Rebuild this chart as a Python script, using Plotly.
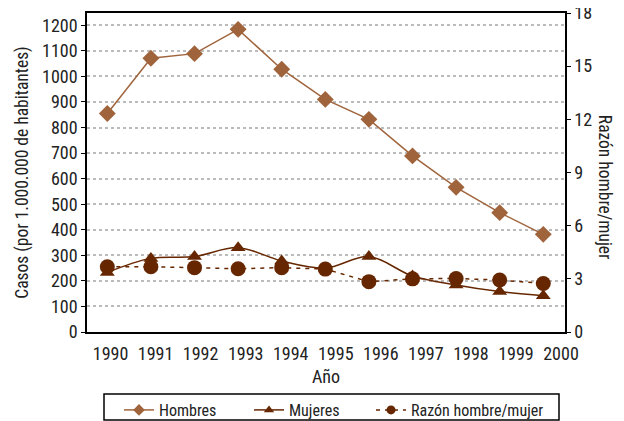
import plotly.graph_objects as go

years = [1990, 1991, 1992, 1993, 1994, 1995, 1996, 1997, 1998, 1999, 2000]
hombres = [855, 1071, 1089, 1184, 1028, 910, 832, 689, 566, 467, 382]
mujeres = [233, 288, 295, 330, 278, 250, 295, 219, 184, 158, 142]
razon = [3.68, 3.68, 3.63, 3.57, 3.63, 3.55, 2.84, 3.0, 3.02, 2.93, 2.74]
year_labels = [str(y) for y in years]
left_ticks = list(range(0, 1300, 100))
right_ticks = [0, 3, 6, 9, 12, 15, 18]

light = "#A0643C"
dark = "#662700"
FONT = "Liberation Sans Narrow, Arial Narrow, Roboto Condensed, sans-serif"

# page body adds an 8px offset; the figure is sized to fill the rest of the window
W, H = 616, 413
L, R, T, B = 79, 59, 5, 89
PW, PH = W - L - R, H - T - B

series = [
    dict(name="Hombres", y=hombres, axis="y", color=light, symbol="diamond", size=13,
         dash="solid", shape="linear", legend="legend", lx=111),
    dict(name="Mujeres", y=mujeres, axis="y", color=dark, symbol="triangle-up", size=13,
         dash="solid", shape="spline", legend="legend2", lx=241),
    dict(name="Razón hombre/mujer", y=razon, axis="y2", color=dark, symbol="circle", size=15,
         dash="4px,5px", shape="linear", legend="legend3", lx=363),
]

fig = go.Figure()
for s in series:
    fig.add_trace(go.Scatter(x=years, y=s["y"], name=s["name"], mode="lines+markers",
                             yaxis=s["axis"], showlegend=False,
                             line=dict(color=s["color"], width=1.5, dash=s["dash"],
                                       shape=s["shape"], smoothing=1),
                             marker=dict(symbol=s["symbol"], size=s["size"], color=s["color"])))
for s in series:
    fig.add_trace(go.Scatter(x=[None], y=[None], name=s["name"], mode="lines+markers",
                             yaxis=s["axis"], legend=s["legend"], showlegend=True,
                             line=dict(color=s["color"], width=1.5, dash=s["dash"]),
                             marker=dict(symbol=s["symbol"], size=9, color=s["color"])))
# label scale for the year tick labels
fig.add_trace(go.Scatter(x=years, y=[None] * len(years), xaxis="x2", showlegend=False,
                         hoverinfo="skip", mode="markers"))

leg_common = dict(orientation="h", xref="container", yref="container", xanchor="left",
                  y=1 - 385 / H, yanchor="top", borderwidth=0, bgcolor="rgba(0,0,0,0)",
                  font=dict(size=16))
legends = {}
for s in series:
    legends[s["legend"]] = dict(leg_common, x=s["lx"] / W)

fig.update_layout(
    width=W, height=H,
    margin=dict(l=L, r=R, t=T, b=B, autoexpand=False),
    paper_bgcolor="white", plot_bgcolor="white",
    font=dict(family=FONT, size=17, color="#222"),
    showlegend=True,
    **legends,
    xaxis=dict(range=[1989.534, 2000.498], showticklabels=False, showgrid=False,
               showline=True, linecolor="black", linewidth=1.5, mirror=True,
               zeroline=False, ticks="", automargin=False),
    xaxis2=dict(range=[1989.478, 2000.089], overlaying="x", anchor="y", side="bottom",
                tickvals=years, ticktext=year_labels, showgrid=False, showline=False,
                zeroline=False, ticks="", ticklabelstandoff=9, automargin=False,
                tickfont=dict(size=18),
                title=dict(text="Año", standoff=7, font=dict(size=18))),
    yaxis=dict(range=[0, 1248], tickvals=left_ticks, showline=True, linecolor="black",
               linewidth=1.5, ticks="outside", ticklen=4, tickcolor="black",
               showgrid=True, gridcolor="#BBBBBB", griddash="dot", gridwidth=1.5,
               zeroline=False, automargin=False, ticklabeloverflow="allow",
               tickfont=dict(size=18),
               title=dict(text="Casos (por 1.000.000 de habitantes)", standoff=9,
                          font=dict(size=17.5))),
    yaxis2=dict(range=[0, 18], tickvals=right_ticks, overlaying="y", side="right",
                showline=True, linecolor="black", linewidth=1.5, ticks="outside",
                ticklen=4, tickcolor="black", showgrid=False, zeroline=False,
                automargin=False, ticklabeloverflow="allow", tickfont=dict(size=18)),
    annotations=[dict(text="Razón hombre/mujer", textangle=90, xref="paper", yref="paper",
                      x=1.0, xshift=40, xanchor="center", y=0.455, yanchor="middle",
                      showarrow=False, font=dict(size=17.5))],
    shapes=[dict(type="rect", xref="paper", yref="paper",
                 x0=(104 - 8 - L) / PW, x1=(559 - 8 - L) / PW,
                 y0=-(394 - 8 - T - PH) / PH, y1=-(420 - 8 - T - PH) / PH,
                 line=dict(color="black", width=1.5), fillcolor="rgba(0,0,0,0)")],
)

fig.write_html("out.html")
